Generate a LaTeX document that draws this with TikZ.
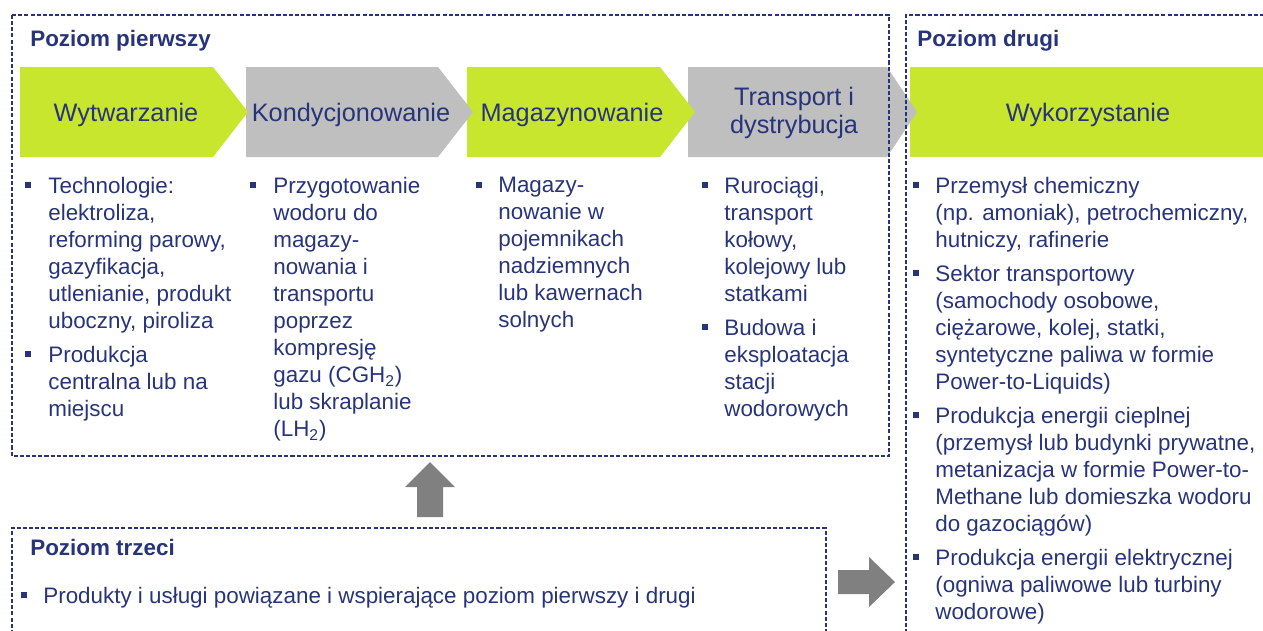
\documentclass[tikz,border=0pt]{standalone}
\usepackage{fontspec}
\setmainfont{Liberation Sans}

\definecolor{navy}{RGB}{40,52,122}
\definecolor{lime}{RGB}{200,230,45}
\definecolor{chevgray}{RGB}{191,191,191}
\definecolor{arrgray}{RGB}{128,128,128}

\tikzset{
  tierbox/.style={draw=navy, line width=0.85pt, dash pattern=on 2.3pt off 1.2pt},
  stagetext/.style={text=navy, font=\fontsize{14.4}{15.9}\selectfont, align=center, inner sep=0},
  tiertitle/.style={text=navy, font=\bfseries\fontsize{12.75}{15.36}\selectfont, anchor=base west, inner sep=0},
  bultext/.style={text=navy, font=\fontsize{12.75}{15.36}\selectfont, align=left, anchor=north west, inner sep=0},
  bulsq/.style={fill=navy, minimum size=3.3pt, inner sep=0}
}

\begin{document}
\begin{tikzpicture}[x=0.02cm,y=-0.02cm]
\useasboundingbox (0,0) rectangle (1263,630);
\clip (0,0) rectangle (1263,630);

\fill[lime] (910,67) rectangle (1270,157);
\fill[chevgray] (688,67) -- (887,67) -- (917,112) -- (887,157) -- (688,157) -- cycle;
\fill[lime] (467,67) -- (660,67) -- (695,112) -- (660,157) -- (467,157) -- cycle;
\fill[chevgray] (246,67) -- (438,67) -- (473,112) -- (438,157) -- (246,157) -- cycle;
\fill[lime] (20,67) -- (213,67) -- (248,112) -- (213,157) -- (20,157) -- cycle;

\node[stagetext, anchor=base] (wyt) at (126,121) {Wytwarzanie};
\node[stagetext, anchor=base] (kond) at (351,121) {Kondycjonowanie};
\node[stagetext, anchor=base] (mag) at (572,121) {Magazynowanie};
\node[stagetext] (trans) at (794,113) {Transport i\\dystrybucja};
\node[stagetext, anchor=base] (wyk) at (1088,121) {Wykorzystanie};

\node[tiertitle] (t1) at (30,46) {Poziom pierwszy};
\node[tiertitle] (t2) at (917,46) {Poziom drugi};
\node[tiertitle] (t3) at (30,555) {Poziom trzeci};

\node[bulsq] (b11) at (28,185) {};
\node[bultext] (i11) at (48,177) {Technologie:\\elektroliza,\\reforming parowy,\\gazyfikacja,\\utlenianie, produkt\\uboczny, piroliza};
\node[bulsq] (b12) at (28,354) {};
\node[bultext] (i12) at (48,346) {Produkcja\\centralna lub na\\miejscu};

\node[bulsq] (b21) at (253,185) {};
\node[bultext] (i21) at (273,177) {Przygotowanie\\wodoru do\\magazy-\\nowania i\\transportu\\poprzez\\kompresję\\gazu (CGH\textsubscript{2})\\lub skraplanie\\(LH\textsubscript{2})};

\node[bulsq] (b31) at (479,185) {};
\node[bultext] (i31) at (498,177) {Magazy-\\nowanie w\\pojemnikach\\nadziemnych\\lub kawernach\\solnych};

\node[bulsq] (b41) at (705,185) {};
\node[bultext] (i41) at (724,177) {Rurociągi,\\transport\\kołowy,\\kolejowy lub\\statkami};
\node[bulsq] (b42) at (705,327) {};
\node[bultext] (i42) at (724,319) {Budowa i\\eksploatacja\\stacji\\wodorowych};

\node[bulsq] (b51) at (916,185) {};
\node[bultext] (i51) at (935,177) {Przemysł chemiczny\\(np. amoniak), petrochemiczny,\\hutniczy, rafinerie};
\node[bulsq] (b52) at (916,273) {};
\node[bultext] (i52) at (935,265) {Sektor transportowy\\(samochody osobowe,\\ciężarowe, kolej, statki,\\syntetyczne paliwa w formie\\Power-to-Liquids)};
\node[bulsq] (b53) at (916,415) {};
\node[bultext] (i53) at (935,407) {Produkcja energii cieplnej\\(przemysł lub budynki prywatne,\\metanizacja w formie Power-to-\\Methane lub domieszka wodoru\\do gazociągów)};
\node[bulsq] (b54) at (916,557) {};
\node[bultext] (i54) at (935,549) {Produkcja energii elektrycznej\\(ogniwa paliwowe lub turbiny\\wodorowe)};

\node[bulsq] (b61) at (24,595) {};
\node[bultext] (i61) at (43,587) {Produkty i usługi powiązane i wspierające poziom pierwszy i drugi};

\fill[arrgray] (417,517) -- (417,487) -- (405,487) -- (430,462) -- (455,487) -- (443,487) -- (443,517) -- cycle;
\fill[arrgray] (838,570) -- (869,570) -- (869,557) -- (895,582) -- (869,607) -- (869,594) -- (838,594) -- cycle;

\draw[tierbox] (12,15) rectangle (889,456);
\draw[tierbox] (1270,15) -- (906,15) -- (906,640);
\draw[tierbox] (12,640) -- (12,528) -- (826,528) -- (826,640);
\end{tikzpicture}
\end{document}
